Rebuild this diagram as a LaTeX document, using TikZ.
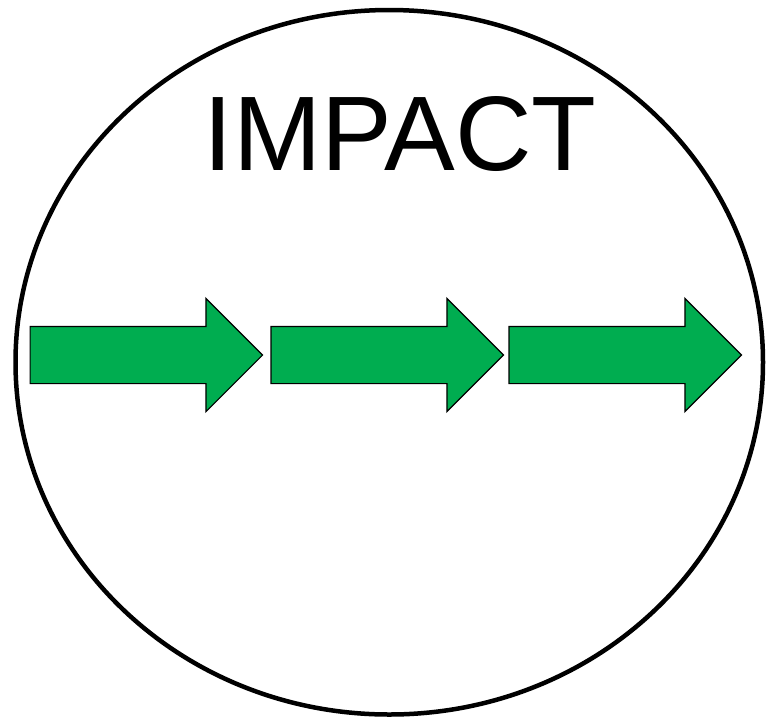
\documentclass[tikz,border=0pt]{standalone}
\usepackage{fontspec}
\setmainfont{Liberation Sans}
\usetikzlibrary{positioning,shapes.geometric,shapes.arrows}
\definecolor{impactgreen}{RGB}{0,173,80}

\begin{document}
\begin{tikzpicture}[x=1pt,y=-1pt,
rim/.style={ellipse, draw, line width=4.5pt, minimum width=747.5pt, minimum height=704.5pt, inner sep=0pt},
passo/.style={single arrow, draw, line width=1.2pt, fill=impactgreen, minimum height=232.5pt, minimum width=0pt,
  inner xsep=0pt, inner ysep=28pt, single arrow head extend=28pt, single arrow tip angle=90},
titulo/.style={font=\fontsize{106}{110}\selectfont, anchor=base, inner sep=0pt}
]
\useasboundingbox (0,0) rectangle (771,721);
\node[rim] (circulo) at (389.25,362.25) {};
\node[titulo] (impacto) at (400,170) {IMPACT};
\node[passo, anchor=tail] (p1) at (29.5,355) {};
\node[passo, right=7pt of p1] (p2) {};
\node[passo, right=4pt of p2] (p3) {};
\end{tikzpicture}
\end{document}
